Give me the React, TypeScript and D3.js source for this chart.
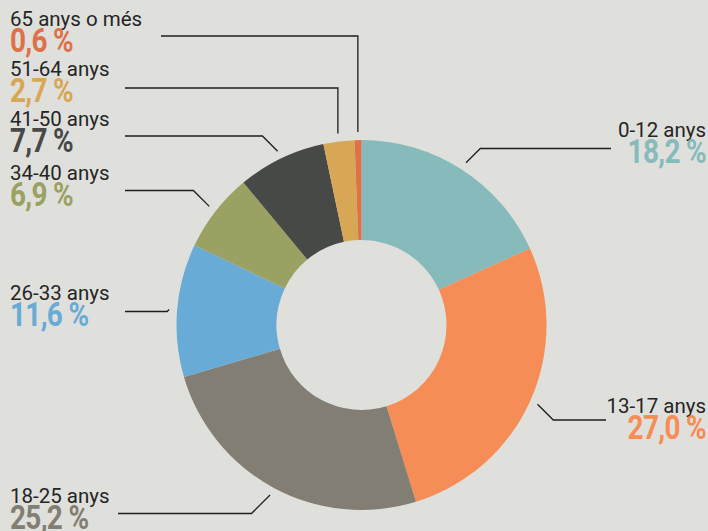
import React from 'react';
import * as d3 from 'd3';

// age groups, clockwise from the top
const categories = ['0-12 anys', '13-17 anys', '18-25 anys', '26-33 anys', '34-40 anys', '41-50 anys', '51-64 anys', '65 anys o més'];
const shares = [18.2, 27.0, 25.2, 11.6, 6.9, 7.7, 2.7, 0.6];
const colors = ['#86babb', '#f68c56', '#837e73', '#67abd6', '#9ba063', '#474946', '#d8a755', '#dd714a'];

// label layout (baseline of the age label, y of the leader's horizontal run, where it stops)
const labelBaselines = [137, 413, 503, 300, 180, 126, 76, 26];
const leaderYs = [148.5, 420, 513.5, 311.5, 190.5, 136, 88, 36];
const leaderEnds = [611, 606, 118, 125, 125, 125, 125, 161];

const W = 708;
const H = 531;
const cx = 361.5;
const cy = 325;
const outerR = 185;
const innerR = 85;

const catalan = d3.formatLocale({decimal: ',', thousands: '.', grouping: [3], currency: ['', ' €']});
const fmt = catalan.format('.1f');

const App = () => {
    const pie = d3.pie<number>().sort(null).value(d => d);
    const arcs = pie(shares);
    const arc = d3.arc<d3.PieArcDatum<number>>().innerRadius(innerR).outerRadius(outerR);

    return (
        <svg width={W} height={H} style={{position: 'absolute', left: 0, top: 0, display: 'block'}}>
            <rect width={W} height={H} fill="#dfe0db" />
            <g transform={`translate(${cx},${cy})`}>
                {arcs.map((a, i) => (
                    <path key={i} d={arc(a) || ''} fill={colors[i]} />
                ))}
            </g>
            {arcs.map((a, i) => {
                const mid = (a.startAngle + a.endAngle) / 2;
                const px = cx + 193 * Math.sin(mid);
                const py = cy - 193 * Math.cos(mid);
                const right = Math.sin(mid) > 0;
                const ly = leaderYs[i];
                const vertical = Math.abs(Math.sin(mid)) < 0.2;
                const ex = vertical ? px : px + (right ? 1 : -1) * Math.abs(ly - py);
                const pts: [number, number][] = [[px, py], [ex, ly], [leaderEnds[i], ly]];
                const tx = right ? 706 : 10;
                const anchor = right ? 'end' : 'start';
                return (
                    <g key={i}>
                        <path d={d3.line()(pts) || ''} fill="none" stroke="#1e1e1e" strokeWidth={1.3} />
                        <text x={tx} y={labelBaselines[i]} textAnchor={anchor}
                              style={{fontFamily: 'Roboto, sans-serif', fontSize: 20.5, fill: '#252525'}}>
                            {categories[i]}
                        </text>
                        <text transform={`translate(${tx},${labelBaselines[i] + 25.5}) scale(0.86,1)`} textAnchor={anchor}
                              style={{fontFamily: 'Roboto, sans-serif', fontWeight: 700, fontSize: 32.5, fill: colors[i], letterSpacing: -0.8}}>
                            {fmt(shares[i]) + ' %'}
                        </text>
                    </g>
                );
            })}
        </svg>
    );
};

export default App;
